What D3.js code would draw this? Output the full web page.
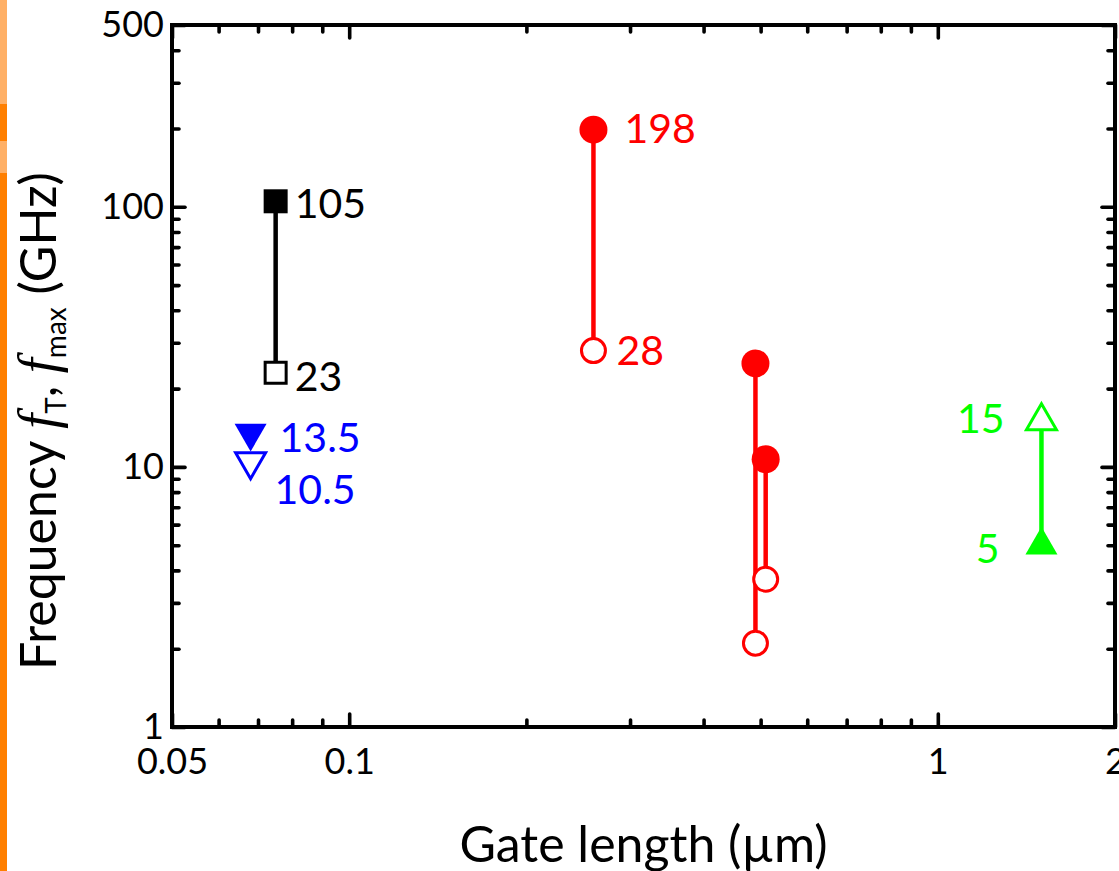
<!DOCTYPE html>
<html>
<head>
<meta charset="utf-8">
<script src="https://cdn.jsdelivr.net/npm/d3@7"></script>
<style>
  html, body { margin: 0; padding: 0; background: #fff; }
  svg { display: block; }
  text { font-family: Lato, "Open Sans", sans-serif; }
</style>
</head>
<body>
<svg id="chart" width="1119" height="871"></svg>
<script>
// Gate length (µm) of each device, with its two measured frequencies (GHz)
const gateLengths  = [0.075, 0.068, 0.26, 0.49, 0.51, 1.5];
const filledValues = [105, 13.5, 198, 25, 10.7, 5];
const openValues   = [23, 10.5, 28, 2.1, 3.7, 15];
const deviceGroups = ["g1", "g2", "g3", "g3", "g3", "g4"];
const labelled     = [true, true, true, false, false, true];

// Axis ticks
const xMajorTicks = [0.05, 0.1, 1, 2];
const xMinorTicks = [0.06, 0.07, 0.08, 0.09, 0.2, 0.3, 0.4, 0.5, 0.6, 0.7, 0.8, 0.9];
const yMajorTicks = [1, 10, 100, 500];
const yMinorTicks = [2, 3, 4, 5, 6, 7, 8, 9, 20, 30, 40, 50, 60, 70, 80, 90, 200, 300, 400];

// Look of each device group
const groupStyle = {
  g1: { color: "#000000", shape: "square",   link: true },
  g2: { color: "#0000ff", shape: "triDown",  link: false },
  g3: { color: "#ff0000", shape: "circle",   link: true },
  g4: { color: "#00ff00", shape: "triUp",    link: true }
};
// Value-label offsets (dx, dy, anchor) for the filled / open markers
const labelOffsets = {
  0: { filled: [19, 17, "start"], open: [19, 18, "start"] },
  1: { filled: [29, 19, "start"], open: [24, 43, "start"] },
  2: { filled: [31, 13, "start"], open: [23, 14, "start"] },
  5: { filled: [-42, 18, "end"], open: [-37, 12, "end"] }
};

const svg = d3.select("#chart");
const W = 1119, H = 871;
const plot = { left: 172, right: 1115, top: 25, bottom: 727 };

// Coloured page-edge strip on the left
const strip = [[0, 104, "#ffb066"], [104, 141, "#ff7f00"], [141, 173, "#ffb066"], [173, H, "#ff7f00"]];
svg.selectAll("rect.strip").data(strip).join("rect")
  .attr("class", "strip")
  .attr("x", 0).attr("width", 7)
  .attr("y", d => d[0]).attr("height", d => d[1] - d[0])
  .attr("fill", d => d[2]);

const x = d3.scaleLog().domain([0.05, 2]).range([plot.left, plot.right]);
const y = d3.scaleLog().domain([1, 500]).range([plot.bottom, plot.top]);

const fmt = d3.format("~g");
const tickW = 3.6;

function styleAxis(g, fontSize) {
  g.select(".domain").remove();
  g.selectAll(".tick line").attr("stroke", "#000").attr("stroke-width", tickW).attr("stroke-linecap", "round");
  g.selectAll(".tick text").attr("fill", "#000")
    .style("font-family", "Lato, 'Open Sans', sans-serif").style("font-size", fontSize + "px");
  g.attr("font-family", null).attr("font-size", null);
}

// Bottom axis: labels + inward ticks
svg.append("g").attr("transform", `translate(0,${plot.bottom})`)
  .call(d3.axisBottom(x).tickValues(xMajorTicks).tickFormat(fmt).tickSize(-13).tickPadding(21))
  .call(g => styleAxis(g, 36));
svg.append("g").attr("transform", `translate(0,${plot.bottom})`)
  .call(d3.axisBottom(x).tickValues(xMinorTicks).tickFormat("").tickSize(-7))
  .call(g => styleAxis(g, 36));
// Top axis: inward ticks only
svg.append("g").attr("transform", `translate(0,${plot.top})`)
  .call(d3.axisTop(x).tickValues(xMajorTicks).tickFormat("").tickSize(-13))
  .call(g => styleAxis(g, 36));
svg.append("g").attr("transform", `translate(0,${plot.top})`)
  .call(d3.axisTop(x).tickValues(xMinorTicks).tickFormat("").tickSize(-7))
  .call(g => styleAxis(g, 36));
// Left axis: labels + inward ticks
svg.append("g").attr("transform", `translate(${plot.left},0)`)
  .call(d3.axisLeft(y).tickValues(yMajorTicks).tickFormat(fmt).tickSize(-13).tickPadding(8))
  .call(g => styleAxis(g, 36));
svg.append("g").attr("transform", `translate(${plot.left},0)`)
  .call(d3.axisLeft(y).tickValues(yMinorTicks).tickFormat("").tickSize(-7))
  .call(g => styleAxis(g, 36));
// Right axis: inward ticks only
svg.append("g").attr("transform", `translate(${plot.right},0)`)
  .call(d3.axisRight(y).tickValues(yMajorTicks).tickFormat("").tickSize(-13))
  .call(g => styleAxis(g, 36));
svg.append("g").attr("transform", `translate(${plot.right},0)`)
  .call(d3.axisRight(y).tickValues(yMinorTicks).tickFormat("").tickSize(-7))
  .call(g => styleAxis(g, 36));

// Plot frame
svg.append("rect")
  .attr("x", plot.left).attr("y", plot.top)
  .attr("width", plot.right - plot.left).attr("height", plot.bottom - plot.top)
  .attr("fill", "none").attr("stroke", "#000").attr("stroke-width", 4);

// Axis titles
svg.append("text")
  .attr("x", (plot.left + plot.right) / 2).attr("y", 862)
  .attr("text-anchor", "middle")
  .style("font-size", "50px").attr("fill", "#000")
  .text("Gate length (µm)");

const yTitle = svg.append("text")
  .attr("transform", "translate(56,421) rotate(-90)")
  .attr("text-anchor", "middle")
  .style("font-size", "50px").attr("fill", "#000");
yTitle.append("tspan").text("Frequency ");
yTitle.append("tspan").style("font-family", "'Liberation Serif', serif").style("font-style", "italic").style("font-size", "54px").text("f");
yTitle.append("tspan").attr("dy", 10).style("font-size", "28px").text("T");
yTitle.append("tspan").attr("dy", -10).text(", ");
yTitle.append("tspan").style("font-family", "'Liberation Serif', serif").style("font-style", "italic").style("font-size", "54px").text("f");
yTitle.append("tspan").attr("dy", 10).style("font-size", "28px").text("max");
yTitle.append("tspan").attr("dy", -10).text(" (GHz)");

// Devices
const devices = gateLengths.map((g, i) => ({
  i, gate: g, filled: filledValues[i], open: openValues[i],
  style: groupStyle[deviceGroups[i]], labelled: labelled[i]
}));

function symbolFor(shape) {
  if (shape === "square") return d3.symbolSquare;
  if (shape === "circle") return d3.symbolCircle;
  return d3.symbolTriangle;
}
function sizeFor(shape, open) {
  if (shape === "square") return open ? 21 * 21 : 24 * 24;
  if (shape === "circle") return Math.PI * (open ? 12 * 12 : 14 * 14);
  return (Math.sqrt(3) / 4) * (open ? 30 * 30 : 32 * 32);
}

const layer = svg.append("g");

// Vertical links between the two values of each device
layer.selectAll("line.link").data(devices.filter(d => d.style.link)).join("line")
  .attr("class", "link")
  .attr("x1", d => x(d.gate)).attr("x2", d => x(d.gate))
  .attr("y1", d => y(d.filled)).attr("y2", d => y(d.open))
  .attr("stroke", d => d.style.color).attr("stroke-width", 4.5);

// Open markers
layer.selectAll("path.open").data(devices).join("path")
  .attr("class", "open")
  .attr("d", d => d3.symbol(symbolFor(d.style.shape), sizeFor(d.style.shape, true))())
  .attr("transform", d => `translate(${x(d.gate)},${y(d.open)})` + (d.style.shape === "triDown" ? " rotate(180)" : ""))
  .attr("fill", "#fff").attr("stroke", d => d.style.color).attr("stroke-width", 3);

// Filled markers
layer.selectAll("path.filled").data(devices).join("path")
  .attr("class", "filled")
  .attr("d", d => d3.symbol(symbolFor(d.style.shape), sizeFor(d.style.shape, false))())
  .attr("transform", d => `translate(${x(d.gate)},${y(d.filled)})` + (d.style.shape === "triDown" ? " rotate(180)" : ""))
  .attr("fill", d => d.style.color);

// Value labels
const labelRows = [];
devices.filter(d => d.labelled).forEach(d => {
  const off = labelOffsets[d.i];
  labelRows.push({ d, v: d.filled, off: off.filled });
  labelRows.push({ d, v: d.open, off: off.open });
});
layer.selectAll("text.value").data(labelRows).join("text")
  .attr("class", "value")
  .attr("x", r => x(r.d.gate) + r.off[0])
  .attr("y", r => y(r.v) + r.off[1])
  .attr("text-anchor", r => r.off[2])
  .attr("fill", r => r.d.style.color)
  .style("font-size", "41px")
  .text(r => fmt(r.v));
</script>
</body>
</html>
